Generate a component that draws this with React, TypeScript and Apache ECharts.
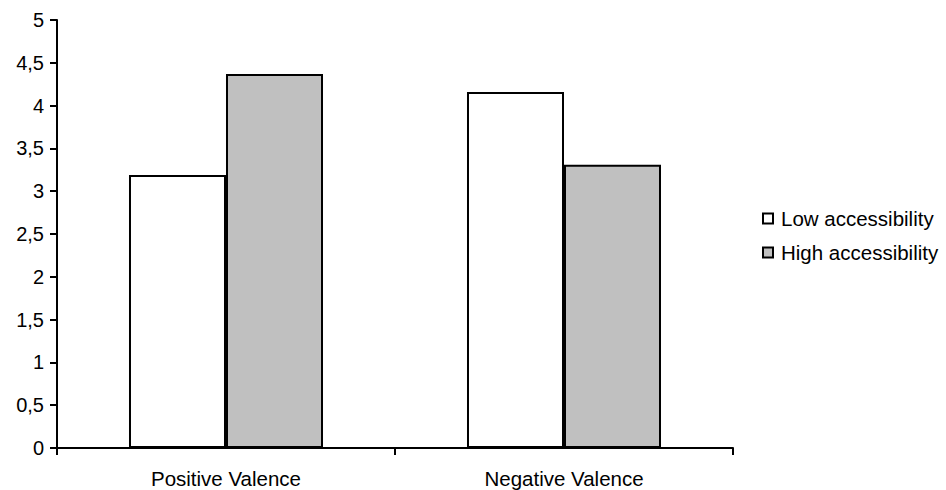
import React, { useEffect, useRef } from "react";
import * as echarts from "echarts";

const categories = ["Positive Valence", "Negative Valence"];
const lowAccessibility = [3.19, 4.16];
const highAccessibility = [4.37, 3.31];
const seriesNames = ["Low accessibility", "High accessibility"];

const FONT = "Liberation Sans, Arial, sans-serif";

export default function App() {
  const ref = useRef<HTMLDivElement>(null);

  useEffect(() => {
    if (!ref.current) return;
    const chart = echarts.init(ref.current, null, { renderer: "svg" });
    chart.setOption({
      animation: false,
      backgroundColor: "#ffffff",
      grid: { left: 57, right: 213, top: 20, bottom: 42, containLabel: false },
      legend: {
        orient: "vertical",
        left: 762,
        top: 208,
        padding: 0,
        itemWidth: 10,
        itemHeight: 10,
        itemGap: 13,
        icon: "rect",
        textStyle: { fontFamily: FONT, fontSize: 20.5, color: "#000", padding: [0, 0, 0, 3] },
        data: [
          { name: seriesNames[0], itemStyle: { color: "#ffffff", borderColor: "#000", borderWidth: 2 } },
          { name: seriesNames[1], itemStyle: { color: "#c0c0c0", borderColor: "#000", borderWidth: 2 } },
        ],
      },
      xAxis: {
        type: "category",
        data: categories,
        axisLine: { lineStyle: { color: "#000", width: 2 } },
        axisTick: { show: true, length: 7, inside: false, lineStyle: { color: "#000", width: 2 } },
        axisLabel: { color: "#000", fontFamily: FONT, fontSize: 20.5, margin: 20 },
        splitLine: { show: false },
      },
      yAxis: {
        type: "value",
        min: 0,
        max: 5,
        interval: 0.5,
        axisLine: { show: true, lineStyle: { color: "#000", width: 2 } },
        axisTick: { show: true, length: 7, lineStyle: { color: "#000", width: 2 } },
        axisLabel: {
          color: "#000",
          fontFamily: FONT,
          fontSize: 20,
          margin: 13,
          formatter: (v: number) => String(v).replace(".", ","),
        },
        splitLine: { show: false },
      },
      series: [
        {
          name: seriesNames[0],
          type: "bar",
          data: lowAccessibility,
          barGap: "0%",
          barCategoryGap: "42.6%",
          itemStyle: { color: "#ffffff", borderColor: "#000", borderWidth: 2 },
        },
        {
          name: seriesNames[1],
          type: "bar",
          data: highAccessibility,
          barGap: "0%",
          barCategoryGap: "42.6%",
          itemStyle: { color: "#c0c0c0", borderColor: "#000", borderWidth: 2 },
        },
      ],
    });
    return () => chart.dispose();
  }, []);

  return (
    <div
      ref={ref}
      style={{ position: "absolute", left: 0, top: 0, width: 946, height: 490 }}
    />
  );
}
